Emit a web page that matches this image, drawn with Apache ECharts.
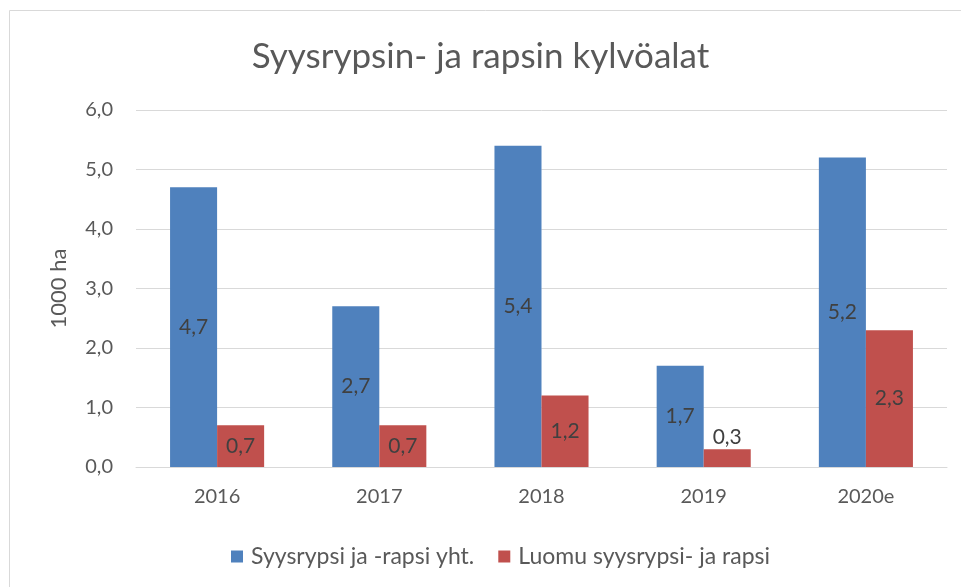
<!DOCTYPE html>
<html><head><meta charset="utf-8">
<script src="https://cdn.jsdelivr.net/npm/echarts@6/dist/echarts.min.js"></script>
<style>html,body{margin:0;padding:0;background:#fff}#c{width:961px;height:587px}</style>
</head><body><div id="c"></div>
<script>
const categories = ['2016', '2017', '2018', '2019', '2020e'];
const totalValues = [4.7, 2.7, 5.4, 1.7, 5.2];
const organicValues = [0.7, 0.7, 1.2, 0.3, 2.3];
const yTicks = [0, 1, 2, 3, 4, 5, 6];
const seriesNames = ['Syysrypsi ja -rapsi yht.', 'Luomu syysrypsi- ja rapsi'];

const FONT = 'Lato, "Open Sans", sans-serif';
const fmt = v => v.toFixed(1).replace('.', ',');
const chart = echarts.init(document.getElementById('c'));
chart.setOption({
  animation: false,
  graphic: [{type:'rect', shape:{x:9.5,y:10.5,width:1000,height:1000}, style:{fill:'none', stroke:'#d9d9d9', lineWidth:1}, z:-1}],
  title: {text: 'Syysrypsin- ja rapsin kylvöalat', left: 'center', top: 34,
    textStyle: {fontFamily: FONT, fontSize: 35, fontWeight: 'normal', color: '#595959'}},
  legend: {top: 540, left: 226, itemWidth: 12, itemHeight: 12, itemGap: 24, icon: 'rect',
    textStyle: {fontFamily: FONT, fontSize: 23, color: '#595959', padding: [0, 0, 0, 3]}},
  grid: {left: 136, right: 14, top: 110, bottom: 120},
  xAxis: {type: 'category', data: categories,
    axisLine: {lineStyle: {color: '#d9d9d9'}}, axisTick: {show: false},
    axisLabel: {fontFamily: FONT, fontSize: 20, color: '#595959', margin: 20}},
  yAxis: {type: 'value', min: yTicks[0], max: yTicks[yTicks.length-1], interval: 1,
    name: '1000 ha', nameLocation: 'middle', nameGap: 66, nameRotate: 90,
    nameTextStyle: {fontFamily: FONT, fontSize: 22, color: '#595959'},
    axisLine: {show: false}, axisTick: {show: false},
    splitLine: {lineStyle: {color: '#d9d9d9', width: 1}},
    axisLabel: {fontFamily: FONT, fontSize: 20, color: '#595959', margin: 23, formatter: v => fmt(v)}},
  series: [
    {name: seriesNames[0], type: 'bar', data: totalValues, barGap: '0%', barCategoryGap: '42%',
     itemStyle: {color: '#4F81BD'},
     label: {show: true, position: 'inside', fontFamily: FONT, fontSize: 21, color: '#404040', formatter: p => fmt(p.value)}},
    {name: seriesNames[1], type: 'bar', data: organicValues.map(v => v < 0.5 ? {value: v, label: {position: 'top', distance: 1}} : v),
     itemStyle: {color: '#C0504D'},
     label: {show: true, position: 'inside', fontFamily: FONT, fontSize: 21, color: '#404040', formatter: p => fmt(p.value)}}
  ]
});
</script></body></html>
